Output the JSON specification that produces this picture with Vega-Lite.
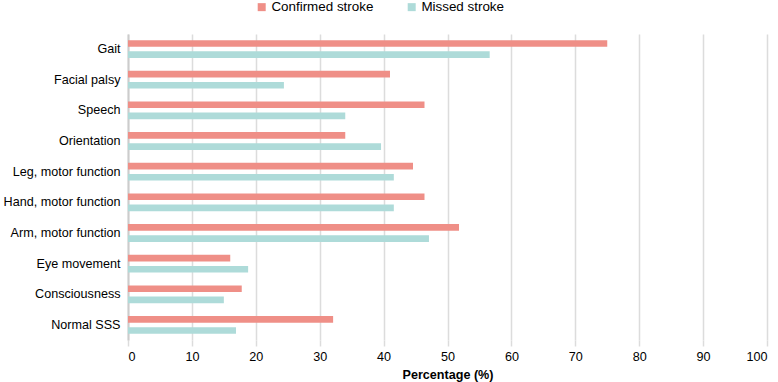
{
  "$schema": "https://vega.github.io/schema/vega-lite/v6.json",
  "width": 639,
  "height": 306,
  "autosize": {"type": "none"},
  "padding": {"left": 128, "top": 34, "right": 11, "bottom": 42},
  "background": "white",
  "config": {
    "font": "Liberation Sans",
    "view": {"stroke": null}
  },
  "data": {
    "values": [
      {"sign": "Gait", "group": "Confirmed stroke", "pct": 75.0},
      {"sign": "Gait", "group": "Missed stroke", "pct": 56.6},
      {"sign": "Facial palsy", "group": "Confirmed stroke", "pct": 41.0},
      {"sign": "Facial palsy", "group": "Missed stroke", "pct": 24.4},
      {"sign": "Speech", "group": "Confirmed stroke", "pct": 46.4},
      {"sign": "Speech", "group": "Missed stroke", "pct": 34.0},
      {"sign": "Orientation", "group": "Confirmed stroke", "pct": 34.0},
      {"sign": "Orientation", "group": "Missed stroke", "pct": 39.6},
      {"sign": "Leg, motor function", "group": "Confirmed stroke", "pct": 44.6},
      {"sign": "Leg, motor function", "group": "Missed stroke", "pct": 41.6},
      {"sign": "Hand, motor function", "group": "Confirmed stroke", "pct": 46.4},
      {"sign": "Hand, motor function", "group": "Missed stroke", "pct": 41.6},
      {"sign": "Arm, motor function", "group": "Confirmed stroke", "pct": 51.8},
      {"sign": "Arm, motor function", "group": "Missed stroke", "pct": 47.1},
      {"sign": "Eye movement", "group": "Confirmed stroke", "pct": 16.0},
      {"sign": "Eye movement", "group": "Missed stroke", "pct": 18.8},
      {"sign": "Consciousness", "group": "Confirmed stroke", "pct": 17.8},
      {"sign": "Consciousness", "group": "Missed stroke", "pct": 15.0},
      {"sign": "Normal SSS", "group": "Confirmed stroke", "pct": 32.1},
      {"sign": "Normal SSS", "group": "Missed stroke", "pct": 16.9}
    ]
  },
  "mark": {"type": "bar"},
  "encoding": {
    "y": {
      "field": "sign",
      "type": "nominal",
      "sort": ["Gait", "Facial palsy", "Speech", "Orientation", "Leg, motor function", "Hand, motor function", "Arm, motor function", "Eye movement", "Consciousness", "Normal SSS"],
      "scale": {"paddingInner": 0.42, "paddingOuter": 0.2},
      "axis": {
        "title": null,
        "ticks": false,
        "labelFontSize": 12.6,
        "labelColor": "#000000",
        "labelPadding": 8,
        "domain": true,
        "domainColor": "#cccccc",
        "domainWidth": 2,
        "grid": false
      }
    },
    "yOffset": {
      "field": "group",
      "type": "nominal",
      "sort": ["Confirmed stroke", "Missed stroke"],
      "scale": {"paddingInner": 0.4}
    },
    "x": {
      "field": "pct",
      "type": "quantitative",
      "scale": {"domain": [0, 100], "nice": false},
      "axis": {
        "title": "Percentage (%)",
        "titleFontSize": 12.6,
        "titleFontWeight": "bold",
        "titleColor": "#000000",
        "titlePadding": 6,
        "values": [0, 10, 20, 30, 40, 50, 60, 70, 80, 90, 100],
        "labelFontSize": 12.6,
        "labelColor": "#000000",
        "labelPadding": 4,
        "domain": false,
        "grid": true,
        "gridColor": "#dcdcdc",
        "gridWidth": 1.5,
        "ticks": true,
        "tickColor": "#dcdcdc",
        "tickWidth": 1.5,
        "tickSize": 6
      }
    },
    "color": {
      "field": "group",
      "type": "nominal",
      "sort": ["Confirmed stroke", "Missed stroke"],
      "scale": {"domain": ["Confirmed stroke", "Missed stroke"], "range": ["#ef8f87", "#aedbd9"]},
      "legend": {
        "title": null,
        "orient": "none",
        "direction": "horizontal",
        "legendX": 127,
        "legendY": -34,
        "symbolType": "square",
        "symbolSize": 64,
        "symbolStrokeWidth": 0,
        "labelFontSize": 13.4,
        "labelColor": "#000000",
        "labelOffset": 3,
        "columnPadding": 31
      }
    }
  }
}
